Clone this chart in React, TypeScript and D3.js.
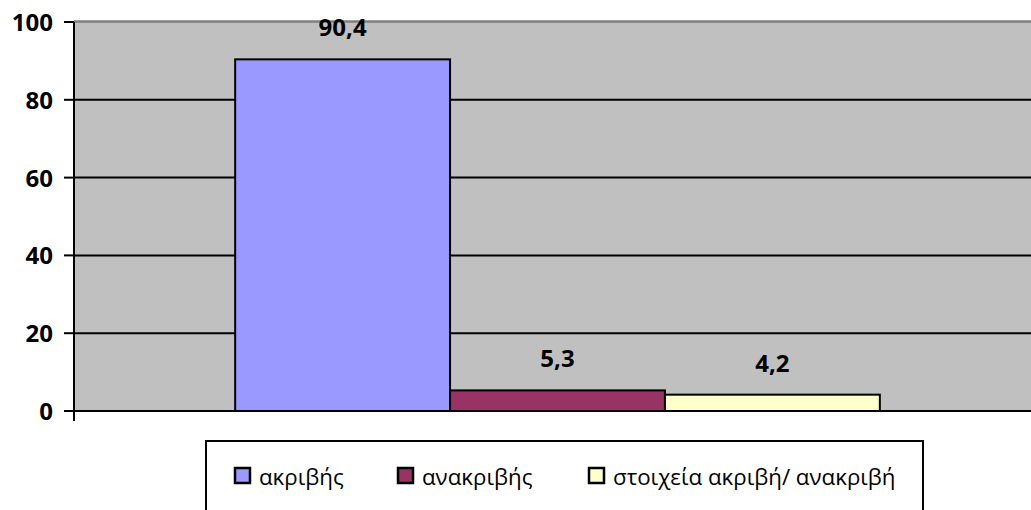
import React from "react";
import * as d3 from "d3";

const categories = ["c1"];
const seriesNames = ["ακριβής", "ανακριβής", "στοιχεία ακριβή/ ανακριβή"];
const seriesValues = [90.4, 5.3, 4.2];
const valueLabels = ["90,4", "5,3", "4,2"];
const seriesColors = ["#9999FF", "#993366", "#FFFFCC"];
const yTicks = [0, 20, 40, 60, 80, 100];

const W = 1031;
const H = 510;
const plot = { left: 74, top: 22, right: 1041, bottom: 411 };
const FONT = "'Open Sans', 'DejaVu Sans', sans-serif";

export default function App() {
  const y = d3.scaleLinear().domain([0, 100]).range([plot.bottom, plot.top]);
  const x0 = d3.scaleBand().domain(categories).range([plot.left, plot.right]).paddingInner(0).paddingOuter(0.25);
  const x1 = d3.scaleBand().domain(seriesNames).range([0, x0.bandwidth()]).padding(0);

  const legendX = [235, 398, 589];
  return (
    <svg width={W} height={H} style={{ position: "absolute", left: 0, top: 0, background: "#fff" }}>
      <rect x={plot.left} y={plot.top} width={plot.right - plot.left} height={plot.bottom - plot.top} fill="#C0C0C0" />
      <line x1={plot.left} x2={plot.right} y1={plot.top - 0.5} y2={plot.top - 0.5} stroke="#808080" strokeWidth={2.5} />
      {yTicks.filter((t) => t > 0 && t < 100).map((t) => (
        <line key={t} x1={plot.left} x2={plot.right} y1={y(t)} y2={y(t)} stroke="#000" strokeWidth={2} />
      ))}
      {categories.map((c) =>
        seriesNames.map((s, i) => (
          <rect
            key={s}
            x={(x0(c) as number) + (x1(s) as number)}
            y={y(seriesValues[i])}
            width={x1.bandwidth()}
            height={y(0) - y(seriesValues[i])}
            fill={seriesColors[i]}
            stroke="#000"
            strokeWidth={2}
          />
        ))
      )}
      {categories.map((c) =>
        seriesNames.map((s, i) => (
          <text
            key={s}
            x={(x0(c) as number) + (x1(s) as number) + x1.bandwidth() / 2}
            y={y(seriesValues[i]) - 23}
            textAnchor="middle"
            fontFamily={FONT}
            fontWeight="bold"
            fontSize={24}
            fill="#000"
          >
            {valueLabels[i]}
          </text>
        ))
      )}
      {/* y axis */}
      <line x1={plot.left} x2={plot.left} y1={plot.top} y2={plot.bottom + 10} stroke="#000" strokeWidth={2} />
      {yTicks.map((t) => (
        <g key={t}>
          <line x1={plot.left - 10} x2={plot.left} y1={y(t)} y2={y(t)} stroke="#000" strokeWidth={2} />
          <text x={53} y={y(t) + 9} textAnchor="end" fontFamily={FONT} fontWeight="bold" fontSize={24} fill="#000">
            {t}
          </text>
        </g>
      ))}
      {/* x axis */}
      <line x1={plot.left} x2={plot.right} y1={plot.bottom} y2={plot.bottom} stroke="#000" strokeWidth={2} />
      {/* legend */}
      <rect x={206} y={441} width={717} height={100} fill="#fff" stroke="#000" strokeWidth={2} />
      {seriesNames.map((s, i) => (
        <g key={s}>
          <rect x={legendX[i]} y={468} width={15} height={15} fill={seriesColors[i]} stroke="#000" strokeWidth={2.5} />
          <text x={legendX[i] + 24} y={485} fontFamily={FONT} fontSize={22.3} fill="#000">
            {s}
          </text>
        </g>
      ))}
    </svg>
  );
}
